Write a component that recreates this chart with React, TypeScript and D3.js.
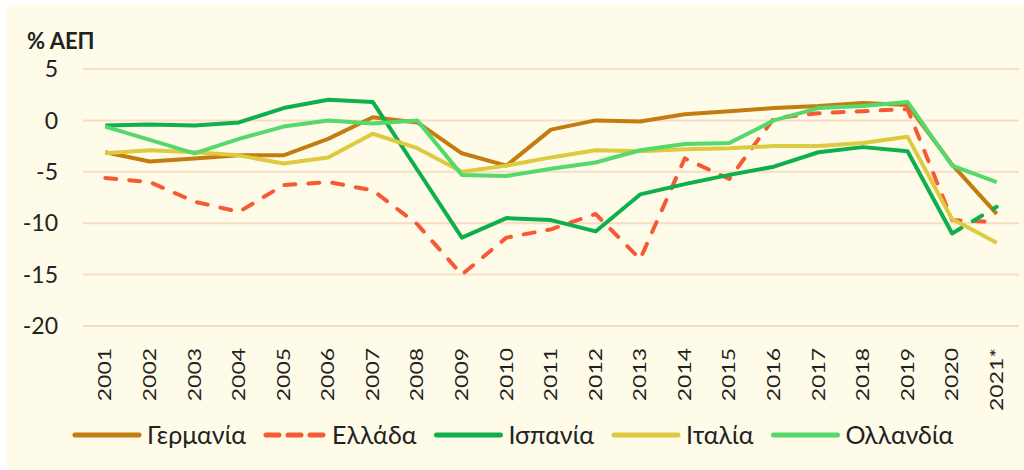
import React, { useEffect, useRef } from "react";
import * as d3 from "d3";

const years = [
  "2001", "2002", "2003", "2004", "2005", "2006", "2007", "2008", "2009", "2010",
  "2011", "2012", "2013", "2014", "2015", "2016", "2017", "2018", "2019", "2020", "2021*",
];
const germany = [-3.1, -4.0, -3.7, -3.4, -3.4, -1.8, 0.3, -0.2, -3.2, -4.4, -0.9, 0.0, -0.1, 0.6, 0.9, 1.2, 1.4, 1.7, 1.5, -4.3, -9.1];
const greece = [-5.6, -6.0, -7.9, -8.9, -6.3, -6.0, -6.8, -10.1, -15.0, -11.4, -10.6, -9.1, -13.5, -3.7, -5.7, 0.2, 0.7, 0.9, 1.1, -9.7, -9.9];
const spain = [-0.5, -0.4, -0.5, -0.2, 1.2, 2.0, 1.8, -4.8, -11.4, -9.5, -9.7, -10.8, -7.2, -6.2, -5.3, -4.5, -3.1, -2.6, -3.0, -11.0, -8.4];
const italy = [-3.2, -2.9, -3.1, -3.4, -4.2, -3.6, -1.3, -2.7, -5.0, -4.4, -3.6, -2.9, -3.0, -2.8, -2.7, -2.5, -2.5, -2.2, -1.6, -9.6, -11.9];
const netherlands = [-0.6, -1.9, -3.2, -1.8, -0.6, 0.0, -0.3, 0.0, -5.3, -5.4, -4.7, -4.1, -2.9, -2.3, -2.2, 0.0, 1.2, 1.4, 1.8, -4.4, -6.0];
const yTicks = [5, 0, -5, -10, -15, -20];

type Series = { name: string; values: number[]; color: string; dashed: boolean; dashedLast: boolean };

const series: Series[] = [
  { name: "Γερμανία", values: germany, color: "#C27C10", dashed: false, dashedLast: false },
  { name: "Ελλάδα", values: greece, color: "#F65A35", dashed: true, dashedLast: false },
  { name: "Ισπανία", values: spain, color: "#0DB04A", dashed: false, dashedLast: true },
  { name: "Ιταλία", values: italy, color: "#DDCA3E", dashed: false, dashedLast: false },
  { name: "Ολλανδία", values: netherlands, color: "#55D86C", dashed: false, dashedLast: false },
];

const FONT = "Lato, 'Open Sans', 'DejaVu Sans', sans-serif";
const TEXT = "#222222";

function Chart() {
  const svgRef = useRef<SVGSVGElement>(null);

  useEffect(() => {
    const width = 1024;
    const height = 470;
    const plot = { left: 83, right: 1019, top: 69, bottom: 326 };
    const svg = d3.select(svgRef.current);
    svg.selectAll("*").remove();

    svg.append("rect").attr("width", width).attr("height", height).attr("fill", "#ffffff");
    svg
      .append("rect")
      .attr("x", 7)
      .attr("y", 4)
      .attr("width", width - 7)
      .attr("height", height - 4)
      .attr("fill", "#FEFBE8");

    const x = d3.scaleBand<string>().domain(years).range([plot.left, plot.right]).padding(0);
    const cx = (d: string) => (x(d) as number) + x.bandwidth() / 2;
    const y = d3.scaleLinear().domain([-20, 5]).range([plot.bottom, plot.top]);

    // gridlines
    svg
      .append("g")
      .selectAll("line")
      .data(yTicks)
      .join("line")
      .attr("x1", plot.left)
      .attr("x2", plot.right)
      .attr("y1", (d) => y(d))
      .attr("y2", (d) => y(d))
      .attr("stroke", "#F8DCC6")
      .attr("stroke-width", 2);

    // y tick labels
    svg
      .append("g")
      .selectAll("text")
      .data(yTicks)
      .join("text")
      .attr("x", 58)
      .attr("y", (d) => y(d))
      .attr("dy", "0.36em")
      .attr("text-anchor", "end")
      .attr("font-family", FONT)
      .attr("font-size", 23)
      .attr("fill", TEXT)
      .text((d) => String(d));

    // axis title
    svg
      .append("text")
      .attr("x", 27)
      .attr("y", 49)
      .attr("font-family", FONT)
      .attr("font-weight", "bold")
      .attr("font-size", 22)
      .attr("fill", TEXT)
      .text("% ΑΕΠ");

    // year labels
    svg
      .append("g")
      .selectAll("text")
      .data(years)
      .join("text")
      .attr("transform", (d) => `translate(${cx(d)},348) rotate(-90) scale(1.35,1)`)
      .attr("dy", "0.36em")
      .attr("text-anchor", "end")
      .attr("font-family", FONT)
      .attr("font-size", 17)
      .attr("fill", TEXT)
      .text((d) => d);

    const line = d3
      .line<[string, number]>()
      .x((d) => cx(d[0]))
      .y((d) => y(d[1]));

    const lines = svg.append("g").attr("fill", "none").attr("stroke-linejoin", "round");
    series.forEach((s) => {
      const pts: [string, number][] = years.map((yr, i) => [yr, s.values[i]]);
      const solidPts = s.dashedLast ? pts.slice(0, pts.length - 1) : pts;
      lines
        .append("path")
        .datum(solidPts)
        .attr("d", line)
        .attr("stroke", s.color)
        .attr("stroke-width", 4)
        .attr("stroke-linecap", s.dashed ? "round" : "butt")
        .attr("stroke-dasharray", s.dashed ? "11,13" : null);
      if (s.dashedLast) {
        lines
          .append("path")
          .datum(pts.slice(pts.length - 2))
          .attr("d", line)
          .attr("stroke", s.color)
          .attr("stroke-width", 4)
          .attr("stroke-linecap", "round")
          .attr("stroke-dasharray", "11,13");
      }
    });

    // legend
    const legend = svg.append("g");
    let lx = 75;
    const ly = 435;
    series.forEach((s) => {
      legend
        .append("line")
        .attr("x1", lx)
        .attr("x2", lx + (s.dashed ? 58 : 64))
        .attr("y1", ly)
        .attr("y2", ly)
        .attr("stroke", s.color)
        .attr("stroke-width", 5)
        .attr("stroke-linecap", "round")
        .attr("stroke-dasharray", s.dashed ? "13,9" : null);
      lx += (s.dashed ? 58 : 64) + 8;
      const t = legend
        .append("text")
        .attr("x", lx)
        .attr("y", ly)
        .attr("dy", "0.36em")
        .attr("font-family", FONT)
        .attr("font-size", 25)
        .attr("fill", TEXT)
        .text(s.name);
      const w = (t.node() as SVGTextElement).getComputedTextLength();
      lx += w + 20;
    });
  }, []);

  return <svg ref={svgRef} width={1024} height={470} style={{ display: "block" }}></svg>;
}

export default function App() {
  return (
    <div>
      <style>{"body{margin:0}"}</style>
      <Chart />
    </div>
  );
}
